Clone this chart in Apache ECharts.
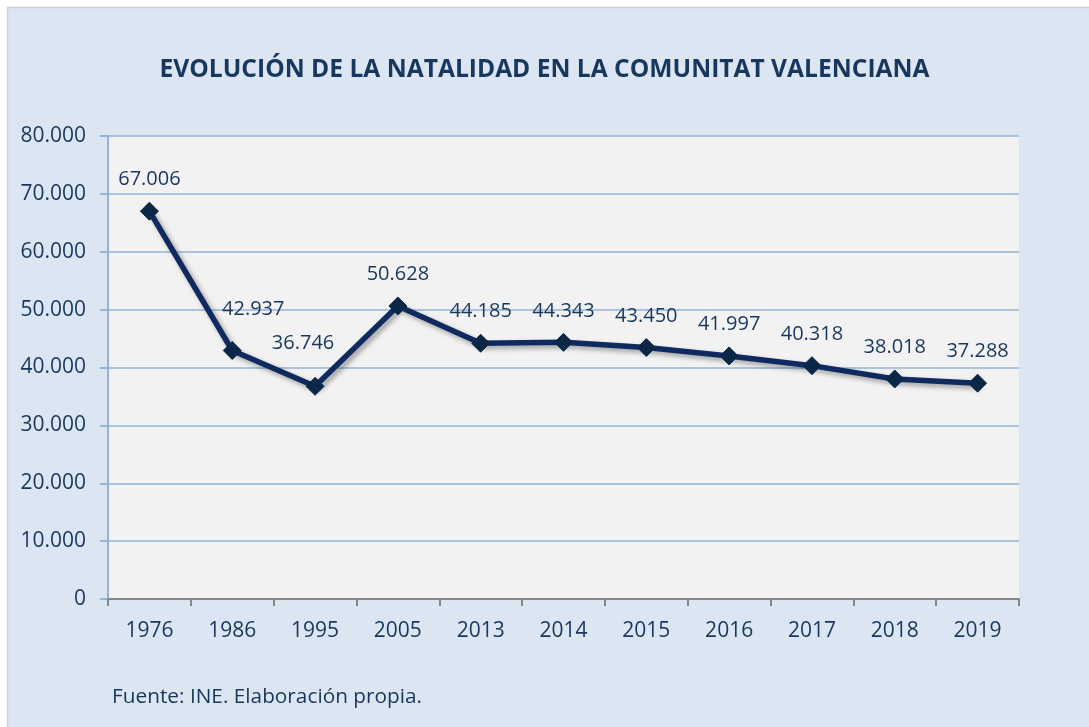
<!DOCTYPE html>
<html>
<head>
<meta charset="utf-8">
<script src="https://cdn.jsdelivr.net/npm/echarts@6/dist/echarts.min.js"></script>
<style>
html,body{margin:0;padding:0;background:#fff;}
#chart{width:1089px;height:727px;}
</style>
</head>
<body>
<div id="chart"></div>
<script>
var categories = ['1976','1986','1995','2005','2013','2014','2015','2016','2017','2018','2019'];
var births = [67006, 42937, 36746, 50628, 44185, 44343, 43450, 41997, 40318, 38018, 37288];
var titleText = 'EVOLUCIÓN DE LA NATALIDAD EN LA COMUNITAT VALENCIANA';
var sourceText = 'Fuente: INE. Elaboración propia.';
var yTicks = {min: 0, max: 80000, interval: 10000};

function fmt(v){
  return String(Math.round(v)).replace(/\B(?=(\d{3})+(?!\d))/g, '.');
}

// label nudges (style only)
var labelNudge = {1: [21, -10], 2: [-12, -12]};

var seriesData = births.map(function(v, i){
  var d = {value: v};
  if (labelNudge[i]) d.label = {offset: labelNudge[i]};
  return d;
});

var textColor = '#17375E';
var font = '"Open Sans", sans-serif';

var chart = echarts.init(document.getElementById('chart'), null, {renderer: 'canvas'});
chart.setOption({
  backgroundColor: '#ffffff',
  animation: false,
  graphic: {
    elements: [{
      type: 'rect', z: -100, silent: true,
      shape: {x: 7.5, y: 7.5, width: 1200, height: 1200},
      style: {fill: '#DCE6F2', stroke: '#D0D0D0', lineWidth: 1.5}
    }, {
      type: 'text', left: 112, top: 687, silent: true,
      style: {text: sourceText, fill: textColor, font: '20.8px ' + font}
    }]
  },
  title: {
    text: titleText,
    left: 'center',
    top: 52,
    textStyle: {color: textColor, fontSize: 24.6, fontWeight: 'bold', fontFamily: font}
  },
  grid: {
    left: 108, right: 70, top: 136, bottom: 128,
    show: true, backgroundColor: '#F2F2F2', borderWidth: 0
  },
  xAxis: {
    type: 'category',
    data: categories,
    boundaryGap: true,
    axisLine: {show: true, lineStyle: {color: '#868686', width: 2}},
    axisTick: {show: true, length: 7, alignWithLabel: false, lineStyle: {color: '#868686', width: 2}},
    axisLabel: {color: textColor, fontSize: 21, fontFamily: font, margin: 22}
  },
  yAxis: {
    type: 'value',
    min: yTicks.min, max: yTicks.max, interval: yTicks.interval,
    axisLine: {show: true, lineStyle: {color: '#95B3D7', width: 2}},
    axisTick: {show: true, length: 8, lineStyle: {color: '#95B3D7', width: 2}},
    splitLine: {show: true, lineStyle: {color: '#95B3D7', width: 1.5}},
    axisLabel: {color: textColor, fontSize: 21, fontFamily: font, margin: 22, formatter: fmt}
  },
  series: [{
    type: 'line',
    data: seriesData,
    symbol: 'diamond',
    symbolSize: 18,
    itemStyle: {color: '#0B2747', borderColor: '#0B2747'},
    lineStyle: {color: '#0E2A5E', width: 5.5, shadowColor: 'rgba(0,0,0,0.35)', shadowBlur: 5, shadowOffsetX: 3, shadowOffsetY: 3},
    label: {
      show: true, position: 'top', distance: 12,
      color: textColor, fontSize: 20, fontFamily: font,
      formatter: function(p){ return fmt(p.value); }
    }
  }]
});
</script>
</body>
</html>
